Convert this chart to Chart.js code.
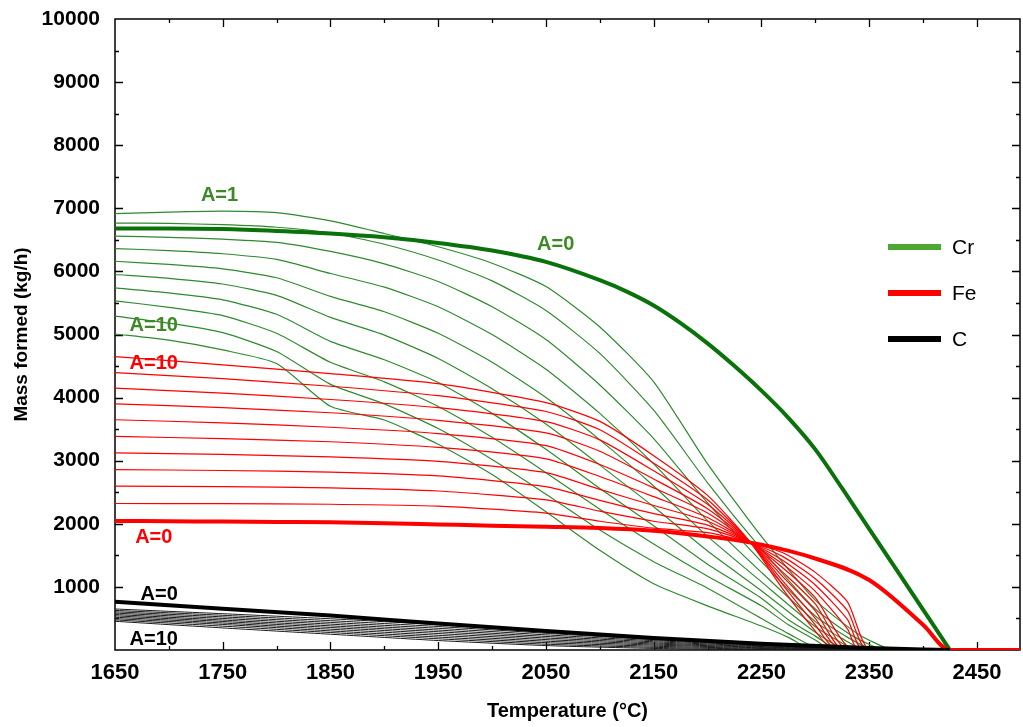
<!DOCTYPE html>
<html>
<head>
<meta charset="utf-8">
<script src="https://cdn.jsdelivr.net/npm/chart.js@4.4.1/dist/chart.umd.min.js"></script>
<style>
  html, body { margin: 0; padding: 0; background: #fff; }
  #c { display: block; }
</style>
</head>
<body>
<canvas id="c" width="1023" height="727"></canvas>
<script>
// ---------- tick values ----------
const xTickValues = [1650, 1750, 1850, 1950, 2050, 2150, 2250, 2350, 2450];
const xMinorTicks = [1700, 1800, 1900, 2000, 2100, 2200, 2300, 2400];
const yTickValues = [1000, 2000, 3000, 4000, 5000, 6000, 7000, 8000, 9000, 10000];
const yMinorTicks = [500, 1500, 2500, 3500, 4500, 5500, 6500, 7500, 8500, 9500];

// ---------- Cr (green) : [temperature, kg/h] ----------
const CR_A0 = [[1650,6680],[1700,6680],[1750,6670],[1800,6640],[1850,6600],[1900,6540],[1950,6450],[2000,6330],[2050,6150],[2100,5860],[2125,5680],[2150,5460],[2175,5180],[2200,4860],[2225,4500],[2250,4110],[2275,3680],[2300,3180],[2325,2560],[2350,1920],[2375,1280],[2400,640],[2425,0]];
const CR_A1 = [[1650,6915],[1700,6940],[1750,6955],[1800,6930],[1850,6800],[1900,6600],[1950,6390],[2000,6130],[2050,5760],[2100,5120],[2150,4250],[2200,2950],[2250,1800],[2300,790],[2340,250],[2372,0],[2425,0]];
const CR_A2 = [[1650,6766],[1700,6760],[1750,6740],[1800,6700],[1850,6610],[1900,6430],[1950,6180],[2000,5850],[2050,5380],[2100,4700],[2150,3800],[2200,2650],[2250,1600],[2300,650],[2335,220],[2364,0],[2425,0]];
const CR_A3 = [[1650,6560],[1700,6540],[1750,6510],[1800,6460],[1850,6316],[1900,6120],[1950,5840],[2000,5440],[2050,4920],[2100,4200],[2150,3350],[2200,2330],[2250,1400],[2300,540],[2330,200],[2355,0],[2425,0]];
const CR_A4 = [[1650,6362],[1700,6330],[1750,6280],[1800,6190],[1850,5967],[1900,5750],[1950,5440],[2000,5000],[2050,4450],[2100,3750],[2150,2950],[2200,2050],[2250,1230],[2300,450],[2325,180],[2346,0],[2425,0]];
const CR_A5 = [[1650,6161],[1700,6110],[1750,6040],[1800,5900],[1850,5604],[1900,5360],[1950,5020],[2000,4560],[2050,4000],[2100,3330],[2150,2600],[2200,1800],[2250,1080],[2300,370],[2320,160],[2338,0],[2425,0]];
const CR_A6 = [[1650,5951],[1700,5890],[1750,5800],[1800,5620],[1850,5271],[1900,4990],[1950,4620],[2000,4140],[2050,3580],[2100,2930],[2150,2270],[2200,1570],[2250,940],[2300,280],[2330,0],[2425,0]];
const CR_A7 = [[1650,5739],[1700,5660],[1750,5550],[1800,5320],[1850,4891],[1900,4600],[1950,4240],[2000,3750],[2050,3180],[2100,2560],[2150,1970],[2200,1360],[2250,820],[2275,480],[2300,220],[2322,0],[2425,0]];
const CR_A8 = [[1650,5534],[1700,5430],[1750,5300],[1800,5020],[1850,4559],[1900,4250],[1950,3860],[2000,3370],[2050,2810],[2100,2230],[2150,1680],[2200,1170],[2250,700],[2275,400],[2300,160],[2315,0],[2425,0]];
const CR_A9 = [[1650,5290],[1700,5180],[1750,5030],[1800,4730],[1850,4210],[1900,3900],[1950,3510],[2000,3020],[2050,2470],[2100,1900],[2150,1400],[2200,980],[2250,500],[2275,260],[2307,0],[2425,0]];
const CR_A10 = [[1650,5008],[1700,4910],[1750,4755],[1800,4540],[1850,3862],[1900,3645],[1950,3260],[2000,2780],[2050,2190],[2100,1580],[2150,1050],[2200,700],[2250,380],[2275,200],[2298,0],[2425,0]];

// ---------- Fe (red) ----------
const FE_A0 = [[1650,2045],[1700,2040],[1750,2035],[1800,2030],[1850,2025],[1900,2010],[1950,1990],[2000,1970],[2050,1955],[2100,1935],[2150,1890],[2200,1800],[2250,1670],[2300,1450],[2350,1110],[2400,400],[2425,0],[2490,0]];
const FE_A1 = [[1650,2322],[1750,2320],[1850,2310],[1950,2280],[2050,2170],[2100,2040],[2150,1930],[2200,1860],[2240,1700],[2270,1540],[2300,1230],[2330,760],[2351,0],[2490,0]];
const FE_A2 = [[1650,2596],[1750,2590],[1850,2570],[1950,2520],[2050,2380],[2100,2200],[2150,2040],[2200,1920],[2240,1700],[2270,1480],[2300,1130],[2330,620],[2348,0],[2490,0]];
const FE_A3 = [[1650,2859],[1750,2845],[1850,2820],[1950,2760],[2050,2590],[2100,2370],[2150,2160],[2200,1980],[2240,1700],[2270,1420],[2300,1030],[2330,480],[2344,0],[2490,0]];
const FE_A4 = [[1650,3123],[1750,3100],[1850,3060],[1950,2990],[2050,2810],[2100,2545],[2150,2290],[2200,2040],[2240,1700],[2270,1360],[2300,930],[2330,330],[2340,0],[2490,0]];
const FE_A5 = [[1650,3385],[1750,3350],[1850,3300],[1950,3210],[2050,3030],[2100,2750],[2150,2430],[2200,2100],[2240,1700],[2270,1300],[2300,830],[2335,0],[2490,0]];
const FE_A6 = [[1650,3649],[1750,3600],[1850,3530],[1950,3430],[2050,3240],[2100,2940],[2150,2570],[2200,2170],[2240,1700],[2270,1230],[2300,730],[2330,0],[2490,0]];
const FE_A7 = [[1650,3902],[1750,3840],[1850,3760],[1950,3640],[2050,3440],[2100,3150],[2150,2710],[2200,2240],[2240,1700],[2270,1160],[2300,620],[2326,0],[2490,0]];
const FE_A8 = [[1650,4150],[1750,4070],[1850,3970],[1950,3840],[2050,3620],[2100,3330],[2150,2840],[2200,2310],[2240,1700],[2270,1090],[2300,500],[2323,0],[2490,0]];
const FE_A9 = [[1650,4397],[1750,4300],[1850,4180],[1950,4030],[2050,3780],[2100,3490],[2150,2960],[2200,2380],[2240,1700],[2270,1030],[2300,400],[2320,0],[2490,0]];
const FE_A10 = [[1650,4650],[1750,4520],[1850,4380],[1950,4220],[2050,3920],[2100,3623],[2150,3080],[2200,2450],[2240,1700],[2270,960],[2300,300],[2317,0],[2490,0]];

// ---------- C (black) ----------
const C_A0 = [[1650,765],[1750,655],[1850,545],[1950,420],[2050,300],[2150,190],[2250,100],[2350,30],[2425,0]];
const C_A1 = [[1650,650],[1750,575],[1850,495],[1950,400],[2050,285],[2150,180],[2250,95],[2350,28],[2425,0]];
const C_A2 = [[1650,628],[1750,550],[1850,465],[1950,372],[2050,265],[2150,165],[2250,85],[2350,24],[2425,0]];
const C_A3 = [[1650,606],[1750,525],[1850,437],[1950,344],[2050,240],[2150,148],[2250,75],[2350,20],[2425,0]];
const C_A4 = [[1650,585],[1750,500],[1850,410],[1950,316],[2050,215],[2150,130],[2250,65],[2350,17],[2425,0]];
const C_A5 = [[1650,563],[1750,475],[1850,383],[1950,289],[2050,190],[2150,112],[2250,55],[2350,14],[2425,0]];
const C_A6 = [[1650,542],[1750,452],[1850,357],[1950,261],[2050,165],[2150,95],[2250,45],[2350,11],[2425,0]];
const C_A7 = [[1650,520],[1750,428],[1850,330],[1950,233],[2050,140],[2150,78],[2250,35],[2350,8],[2425,0]];
const C_A8 = [[1650,498],[1750,405],[1850,303],[1950,205],[2050,116],[2150,60],[2250,25],[2350,5],[2425,0]];
const C_A9 = [[1650,477],[1750,378],[1850,277],[1950,178],[2050,92],[2150,42],[2250,15],[2350,2],[2425,0]];
const C_A10 = [[1650,455],[1750,350],[1850,250],[1950,150],[2050,70],[2150,25],[2250,5],[2350,0],[2425,0]];

// ---------- text annotations (anchor in data units) ----------
const annotations = [
  { text: 'A=1',  t: 1747, v: 7200, color: '#3b8a25' },
  { text: 'A=0',  t: 2059, v: 6420, color: '#3b8a25' },
  { text: 'A=10', t: 1686, v: 5140, color: '#3b8a25' },
  { text: 'A=10', t: 1686, v: 4540, color: '#ff0000' },
  { text: 'A=0',  t: 1686, v: 1785, color: '#ff0000' },
  { text: 'A=0',  t: 1691, v: 887,  color: '#000000' },
  { text: 'A=10', t: 1686, v: 160,  color: '#000000' }
];
const legendItems = [
  { label: 'Cr', color: '#4ea72e' },
  { label: 'Fe', color: '#ff0000' },
  { label: 'C',  color: '#000000' }
];

const FONT = "'Liberation Sans', Arial, Helvetica, sans-serif";
const GREEN_THIN = '#2f8a2f', GREEN_THICK = '#0a720a';
const RED = '#ff0000', BLACK = '#000000';

function ds(arr, color, width, order, curve) {
  const d = {
    data: arr.map(([x, y]) => ({ x, y })),
    borderColor: color,
    borderWidth: width,
    pointRadius: 0,
    fill: false,
    order: order
  };
  if (curve === 'monotone') d.cubicInterpolationMode = 'monotone';
  else d.tension = curve;
  return d;
}

const crThin = [CR_A1, CR_A2, CR_A3, CR_A4, CR_A5, CR_A6, CR_A7, CR_A8, CR_A9, CR_A10];
const feThin = [FE_A1, FE_A2, FE_A3, FE_A4, FE_A5, FE_A6, FE_A7, FE_A8, FE_A9, FE_A10];
const cThin = [C_A1, C_A2, C_A3, C_A4, C_A5, C_A6, C_A7, C_A8, C_A9, C_A10];

const datasets = [
  ...crThin.map(a => ds(a, GREEN_THIN, 1.2, 7, 0.2)),
  ds(CR_A0, GREEN_THICK, 4, 6, 'monotone'),
  ...feThin.map(a => ds(a, RED, 1.2, 5, 0.2)),
  ds(FE_A0, RED, 4, 4, 'monotone'),
  ...cThin.map(a => ds(a, '#1a1a1a', 1, 3, 0.2)),
  ds(C_A0, BLACK, 4, 2, 'monotone')
];

const frameTicks = {
  id: 'frameTicks',
  beforeDatasetsDraw(chart) {
    const { ctx, chartArea: { left, right, top, bottom }, scales: { x, y } } = chart;
    ctx.save();
    ctx.strokeStyle = '#000';
    ctx.lineWidth = 1.5;
    ctx.strokeRect(left, top, right - left, bottom - top);
    ctx.lineWidth = 1.3;
    ctx.beginPath();
    const xt = (vals, len) => vals.forEach(v => {
      const px = Math.round(x.getPixelForValue(v)) + 0.5;
      ctx.moveTo(px, bottom); ctx.lineTo(px, bottom - len);
      ctx.moveTo(px, top); ctx.lineTo(px, top + len);
    });
    const yt = (vals, len) => vals.forEach(v => {
      const py = Math.round(y.getPixelForValue(v)) + 0.5;
      ctx.moveTo(left, py); ctx.lineTo(left + len, py);
      ctx.moveTo(right, py); ctx.lineTo(right - len, py);
    });
    xt(xTickValues.slice(1), 8);
    xt(xMinorTicks, 4);
    yt(yTickValues.slice(0, -1), 8);
    yt(yMinorTicks, 4);
    ctx.stroke();
    ctx.restore();
  },
  afterDatasetsDraw(chart) {
    const { ctx, chartArea, scales: { x, y } } = chart;
    ctx.save();
    ctx.font = `bold 20px ${FONT}`;
    ctx.textAlign = 'center';
    ctx.textBaseline = 'middle';
    annotations.forEach(a => {
      ctx.fillStyle = a.color;
      ctx.fillText(a.text, x.getPixelForValue(a.t), y.getPixelForValue(a.v));
    });
    // legend
    const lx = chartArea.right - 132;
    ctx.font = `21px ${FONT}`;
    ctx.textAlign = 'left';
    legendItems.forEach((it, i) => {
      const ly = chartArea.top + 228 + i * 46;
      ctx.strokeStyle = it.color;
      ctx.lineWidth = 6;
      ctx.beginPath();
      ctx.moveTo(lx, ly); ctx.lineTo(lx + 53, ly);
      ctx.stroke();
      ctx.fillStyle = '#000';
      ctx.fillText(it.label, lx + 64, ly + 1);
    });
    ctx.restore();
  }
};

new Chart(document.getElementById('c'), {
  type: 'line',
  data: { datasets },
  options: {
    responsive: false,
    animation: false,
    devicePixelRatio: 1,
    layout: { padding: { top: 19, right: 3, left: 0, bottom: 0 } },
    plugins: { legend: { display: false }, tooltip: { enabled: false } },
    scales: {
      x: {
        type: 'linear',
        min: 1650, max: 2490,
        afterBuildTicks: s => { s.ticks = xTickValues.map(v => ({ value: v })); },
        afterFit: s => { s.height = 77; s.paddingLeft = 0; s.paddingRight = 0; },
        grid: { display: false, drawTicks: false },
        border: { display: false },
        ticks: {
          autoSkip: false, maxRotation: 0, padding: 10, color: '#000',
          font: { family: FONT, size: 22, weight: 'bold' },
          callback: v => String(v)
        },
        title: {
          display: true, text: 'Temperature (°C)', color: '#000',
          font: { family: FONT, size: 20, weight: 'bold' },
          padding: { top: 0, bottom: 4 }
        }
      },
      y: {
        type: 'linear',
        min: 0, max: 10000,
        afterBuildTicks: s => { s.ticks = yTickValues.map(v => ({ value: v })); },
        afterFit: s => { s.width = 115; s.paddingTop = 0; s.paddingBottom = 0; },
        grid: { display: false, drawTicks: false },
        border: { display: false },
        ticks: {
          autoSkip: false, padding: 15, color: '#000',
          font: { family: FONT, size: 21, weight: 'bold' },
          callback: v => String(v)
        },
        title: {
          display: true, text: 'Mass formed (kg/h)', color: '#000',
          font: { family: FONT, size: 19, weight: 'bold' },
          padding: { top: 10, bottom: 0 }
        }
      }
    }
  },
  plugins: [frameTicks]
});
</script>
</body>
</html>
